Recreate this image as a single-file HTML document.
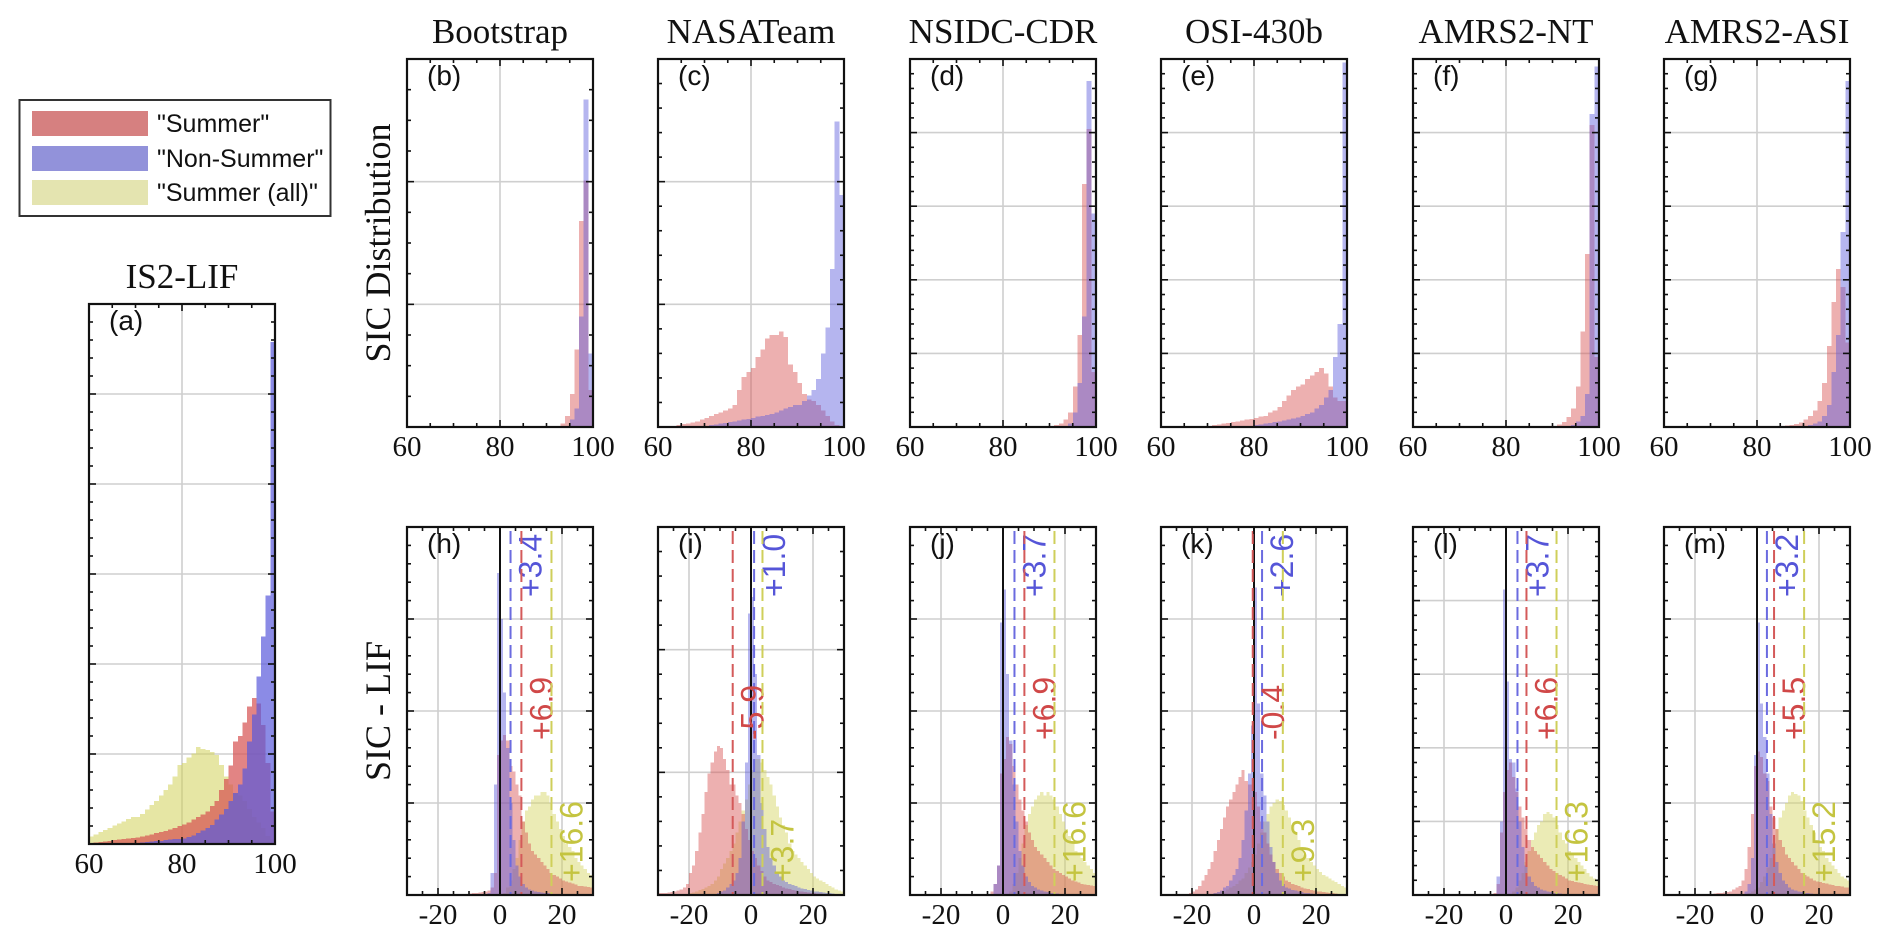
<!DOCTYPE html>
<html><head><meta charset="utf-8"><style>
html,body{margin:0;padding:0;background:#fff;}
svg{display:block;}
</style></head><body>
<svg id="fig" width="1892" height="943" viewBox="0 0 1892 943" xmlns="http://www.w3.org/2000/svg">
<g id="legend">
  <rect x="19.5" y="100" width="311" height="116" fill="#fff" stroke="#333" stroke-width="2"/>
  <rect x="32" y="111" width="116" height="25" fill="#d68080"/>
  <text x="157" y="132" font-family="Liberation Sans, sans-serif" font-size="25" fill="#111">"Summer"</text>
  <rect x="32" y="146" width="116" height="25" fill="#9292da"/>
  <text x="157" y="167" font-family="Liberation Sans, sans-serif" font-size="25" fill="#111">"Non-Summer"</text>
  <rect x="32" y="180" width="116" height="25" fill="#e4e4b0"/>
  <text x="157" y="201" font-family="Liberation Sans, sans-serif" font-size="25" fill="#111">"Summer (all)"</text>
</g>
</svg>
<script>
// ---------- data ----------
const topTitles = ['Bootstrap','NASATeam','NSIDC-CDR','OSI-430b','AMRS2-NT','AMRS2-ASI'];
const topLetters = ['(b)','(c)','(d)','(e)','(f)','(g)'];
const botLetters = ['(h)','(i)','(j)','(k)','(l)','(m)'];
const topXTicks = [60,80,100];
const botXTicks = [-20,0,20];
// SIC bins 60..99 (width 1), heights as fraction of axis height
const bRed  = [0,0,0,0,0,0,0,0,0,0, 0,0,0,0,0,0,0,0,0,0, 0,0,0,0,0,0,0,0,0,0, 0,0,0,0.01,0.03,0.09,0.21,0.56,0.67,0.1];
const bBlue = [0,0,0,0,0,0,0,0,0,0, 0,0,0,0,0,0,0,0,0,0, 0,0,0,0,0,0,0,0,0,0, 0,0,0,0,0,0.02,0.05,0.3,0.89,0.2];
const cRed  = [0,0,0,0.003,0.005,0.008,0.01,0.012,0.015,0.02, 0.025,0.03,0.035,0.04,0.045,0.05,0.06,0.1,0.136,0.15, 0.16,0.19,0.21,0.24,0.25,0.25,0.26,0.245,0.17,0.15, 0.12,0.09,0.075,0.07,0.06,0.045,0.03,0.015,0.005,0];
const cBlue = [0,0,0,0,0,0,0,0,0,0, 0.003,0.005,0.007,0.009,0.011,0.013,0.015,0.018,0.02,0.022, 0.025,0.028,0.03,0.033,0.036,0.04,0.045,0.05,0.055,0.06, 0.06,0.07,0.085,0.1,0.13,0.2,0.27,0.43,0.83,0.63];
const dRed  = [0,0,0,0,0,0,0,0,0,0, 0,0,0,0,0,0,0,0,0,0, 0,0,0,0,0,0,0,0,0,0, 0,0.005,0.01,0.02,0.04,0.11,0.25,0.66,0.81,0.15];
const dBlue = [0,0,0,0,0,0,0,0,0,0, 0,0,0,0,0,0,0,0,0,0, 0,0,0,0,0,0,0,0,0,0, 0,0,0,0,0.01,0.04,0.12,0.3,0.94,0.58];
const eRed  = [0,0,0,0,0,0,0,0,0,0, 0.003,0.005,0.007,0.009,0.011,0.013,0.015,0.018,0.02,0.022, 0.025,0.028,0.03,0.04,0.045,0.055,0.07,0.085,0.1,0.11, 0.115,0.13,0.14,0.15,0.16,0.145,0.11,0.08,0.07,0.07];
const eBlue = [0,0,0,0,0,0,0,0,0,0, 0,0,0,0,0,0,0,0,0,0, 0.005,0.007,0.009,0.011,0.013,0.015,0.018,0.02,0.023,0.026, 0.03,0.035,0.04,0.05,0.06,0.08,0.1,0.19,0.28,0.99];
const fRed  = [0,0,0,0,0,0,0,0,0,0, 0,0,0,0,0,0,0,0,0,0, 0,0,0,0,0,0,0,0,0,0, 0.003,0.007,0.014,0.027,0.05,0.11,0.26,0.47,0.82,0.19];
const fBlue = [0,0,0,0,0,0,0,0,0,0, 0,0,0,0,0,0,0,0,0,0, 0,0,0,0,0,0,0,0,0,0, 0,0,0,0,0.005,0.015,0.03,0.09,0.85,0.98];
const gRed  = [0,0,0,0,0,0,0,0,0,0, 0,0,0,0,0,0,0,0,0,0, 0,0,0,0,0,0.003,0.004,0.005,0.008,0.012, 0.02,0.03,0.045,0.07,0.12,0.22,0.34,0.43,0.38,0.23];
const gBlue = [0,0,0,0,0,0,0,0,0,0, 0,0,0,0,0,0,0,0,0,0, 0,0,0,0,0,0,0,0,0,0, 0.003,0.005,0.01,0.015,0.03,0.06,0.15,0.25,0.53,0.94];
// IS2-LIF panel (a), bins 60..99
const aYellow = [0.014,0.018,0.022,0.026,0.03,0.034,0.038,0.042,0.046,0.05, 0.05,0.056,0.064,0.072,0.08,0.09,0.1,0.11,0.125,0.146, 0.15,0.16,0.168,0.18,0.176,0.174,0.17,0.165,0.146,0.125, 0.11,0.094,0.09,0.08,0.065,0.05,0.04,0.03,0.015,0.008];
const aRed    = [0.002,0.003,0.004,0.005,0.006,0.007,0.008,0.009,0.01,0.011, 0.012,0.014,0.016,0.018,0.02,0.022,0.024,0.027,0.03,0.033, 0.036,0.04,0.045,0.05,0.055,0.06,0.07,0.08,0.1,0.12, 0.145,0.19,0.2,0.225,0.255,0.27,0.26,0.22,0.15,0.06];
const aBlue   = [0,0,0,0,0,0,0,0,0,0, 0.002,0.003,0.004,0.005,0.006,0.006,0.007,0.008,0.009,0.009, 0.01,0.013,0.016,0.02,0.025,0.03,0.035,0.045,0.055,0.065, 0.08,0.094,0.11,0.14,0.19,0.24,0.31,0.384,0.46,0.93];
// SIC - LIF bins -30..29 (width 1)
const hRed = [0,0,0,0,0,0,0,0,0,0, 0,0,0,0,0,0,0,0,0.002,0.003, 0.004,0.005,0.006,0.007,0.008,0.01,0.012,0.02,0.06,0.38, 0.42,0.435,0.42,0.35,0.335,0.3,0.27,0.2,0.17,0.14, 0.12,0.11,0.1,0.09,0.08,0.07,0.06,0.055,0.05,0.045, 0.04,0.037,0.034,0.031,0.028,0.025,0.024,0.023,0.022,0.02];
const hBlue = [0,0,0,0,0,0,0,0,0,0, 0,0,0,0,0,0,0,0,0,0, 0,0,0,0,0,0.003,0.006,0.06,0.3,0.875, 0.75,0.55,0.4,0.25,0.15,0.08,0.05,0.03,0.02,0.015, 0.012,0.01,0.008,0.007,0.006,0.005,0.004,0.003,0.003,0.002, 0.002,0.002,0.001,0,0,0,0,0,0,0];
const hYellow = [0,0,0,0,0,0,0,0,0,0, 0,0,0,0,0,0,0,0,0,0, 0,0,0,0,0,0,0,0,0,0, 0,0.005,0.02,0.04,0.07,0.1,0.15,0.2,0.23,0.24, 0.26,0.27,0.27,0.28,0.28,0.27,0.25,0.22,0.2,0.18, 0.16,0.14,0.13,0.12,0.1,0.09,0.08,0.07,0.06,0.055];
const iRed = [0.005,0.005,0.006,0.007,0.008,0.01,0.012,0.015,0.02,0.03, 0.06,0.08,0.12,0.17,0.22,0.28,0.33,0.36,0.39,0.405, 0.4,0.37,0.34,0.3,0.3,0.27,0.25,0.22,0.18,0.15, 0.12,0.1,0.08,0.065,0.05,0.04,0.035,0.03,0.027,0.024, 0.02,0.018,0.016,0.014,0.012,0.01,0.009,0.008,0.007,0.006, 0.005,0.004,0.004,0.003,0.003,0.002,0.002,0.002,0.001,0.001];
const iBlue = [0,0,0,0,0,0,0,0,0,0, 0,0,0,0,0,0,0,0,0,0.005, 0.01,0.012,0.02,0.03,0.04,0.06,0.1,0.2,0.36,0.765, 0.81,0.6,0.38,0.25,0.18,0.13,0.1,0.08,0.06,0.05, 0.04,0.035,0.03,0.027,0.024,0.02,0.018,0.016,0.014,0.012, 0.01,0.009,0.008,0.007,0.006,0.005,0.004,0.003,0.002,0.002];
const iYellow = [0,0,0,0,0,0,0,0,0,0.003, 0.005,0.007,0.01,0.013,0.016,0.02,0.025,0.03,0.04,0.05, 0.07,0.085,0.1,0.12,0.14,0.17,0.2,0.23,0.26,0.3, 0.34,0.37,0.37,0.36,0.34,0.32,0.3,0.27,0.24,0.21, 0.19,0.17,0.14,0.12,0.11,0.1,0.09,0.08,0.07,0.06, 0.05,0.045,0.04,0.035,0.03,0.025,0.02,0.015,0.012,0.01];
const jRed = [0,0,0,0,0,0,0,0,0,0, 0,0,0,0,0,0,0,0,0,0, 0,0,0,0,0,0.003,0.01,0.03,0.08,0.33, 0.37,0.43,0.41,0.35,0.3,0.26,0.23,0.2,0.17,0.15, 0.13,0.12,0.11,0.1,0.09,0.08,0.07,0.065,0.06,0.055, 0.05,0.045,0.04,0.037,0.034,0.03,0.028,0.027,0.026,0.025];
const jBlue = [0,0,0,0,0,0,0,0,0,0, 0,0,0,0,0,0,0,0,0,0, 0,0,0,0,0,0,0,0.03,0.08,0.74, 0.83,0.6,0.42,0.3,0.2,0.12,0.08,0.05,0.035,0.025, 0.02,0.015,0.012,0.01,0.008,0.006,0.005,0.004,0.003,0.002, 0,0,0,0,0,0,0,0,0,0];
const jYellow = [0,0,0,0,0,0,0,0,0,0, 0,0,0,0,0,0,0,0,0,0, 0,0,0,0,0,0,0,0,0,0, 0,0,0.01,0.03,0.06,0.1,0.14,0.19,0.22,0.24, 0.26,0.27,0.28,0.27,0.28,0.27,0.26,0.24,0.22,0.2, 0.18,0.16,0.14,0.12,0.11,0.1,0.09,0.08,0.07,0.06];
const kRed = [0,0,0,0,0,0,0,0,0,0.005, 0.01,0.015,0.025,0.04,0.055,0.07,0.09,0.12,0.15,0.18, 0.21,0.24,0.26,0.28,0.3,0.32,0.34,0.31,0.3,0.3, 0.28,0.24,0.2,0.17,0.14,0.11,0.09,0.07,0.06,0.05, 0.04,0.035,0.03,0.027,0.024,0.02,0.018,0.016,0.014,0.012, 0.01,0.009,0.008,0.007,0.006,0.005,0.004,0.003,0.002,0.002];
const kBlue = [0,0,0,0,0,0,0,0,0,0, 0,0,0,0,0,0,0.003,0.005,0.008,0.012, 0.02,0.025,0.04,0.055,0.07,0.1,0.15,0.23,0.33,0.46, 0.835,0.52,0.33,0.27,0.2,0.13,0.09,0.06,0.04,0.03, 0.02,0.017,0.014,0.012,0.01,0.008,0.006,0.005,0.004,0.003, 0.002,0,0,0,0,0,0,0,0,0];
const kYellow = [0,0,0,0,0,0,0,0,0,0, 0,0,0,0,0,0,0.003,0.005,0.007,0.009, 0.01,0.015,0.02,0.025,0.03,0.04,0.045,0.06,0.075,0.09, 0.11,0.14,0.17,0.2,0.22,0.24,0.25,0.26,0.255,0.245, 0.23,0.21,0.19,0.17,0.15,0.13,0.11,0.1,0.09,0.08, 0.07,0.062,0.055,0.05,0.045,0.04,0.035,0.03,0.025,0.02];
const lRed = [0,0,0,0,0,0,0,0,0,0, 0,0,0,0,0,0,0,0,0,0, 0,0,0,0,0,0,0.005,0.03,0.17,0.28, 0.34,0.36,0.32,0.28,0.24,0.21,0.18,0.15,0.13,0.12, 0.11,0.1,0.09,0.08,0.07,0.065,0.06,0.055,0.05,0.045, 0.04,0.038,0.036,0.034,0.032,0.03,0.028,0.027,0.026,0.025];
const lBlue = [0,0,0,0,0,0,0,0,0,0, 0,0,0,0,0,0,0,0,0,0, 0,0,0,0,0,0,0,0.05,0.2,0.83, 0.58,0.37,0.36,0.29,0.2,0.13,0.08,0.05,0.035,0.025, 0.02,0.015,0.012,0.01,0.008,0.006,0.005,0.004,0.003,0.002, 0,0,0,0,0,0,0,0,0,0];
const lYellow = [0,0,0,0,0,0,0,0,0,0, 0,0,0,0,0,0,0,0,0,0, 0,0,0,0,0,0,0,0,0,0, 0,0,0.01,0.02,0.04,0.06,0.09,0.12,0.15,0.17, 0.19,0.2,0.22,0.225,0.22,0.21,0.19,0.17,0.15,0.14, 0.12,0.11,0.1,0.09,0.08,0.07,0.06,0.05,0.045,0.04];
const mRed = [0,0,0,0,0,0,0,0,0,0, 0,0,0,0,0,0.003,0.004,0.005,0.006,0.007, 0.008,0.01,0.015,0.02,0.025,0.04,0.07,0.13,0.22,0.35, 0.39,0.375,0.33,0.31,0.24,0.21,0.18,0.15,0.13,0.11, 0.1,0.09,0.08,0.07,0.06,0.055,0.05,0.045,0.04,0.037, 0.035,0.033,0.031,0.029,0.027,0.025,0.024,0.023,0.021,0.02];
const mBlue = [0,0,0,0,0,0,0,0,0,0, 0,0,0,0,0,0,0,0,0,0, 0,0,0,0,0,0,0.01,0.03,0.1,0.38, 0.74,0.52,0.43,0.33,0.22,0.14,0.09,0.06,0.04,0.03, 0.02,0.015,0.012,0.01,0.008,0.006,0.005,0.004,0.003,0.002, 0,0,0,0,0,0,0,0,0,0];
const mYellow = [0,0,0,0,0,0,0,0,0,0, 0,0,0,0,0,0,0,0,0,0, 0,0,0,0,0,0,0,0.005,0.01,0.015, 0.02,0.035,0.05,0.075,0.1,0.14,0.18,0.21,0.23,0.25, 0.27,0.28,0.275,0.27,0.255,0.23,0.21,0.19,0.17,0.15, 0.13,0.12,0.1,0.09,0.08,0.07,0.06,0.05,0.045,0.04];
// mean differences (blue, red, yellow)
const meanBlue   = [3.4, 1.0, 3.7, 2.6, 3.7, 3.2];
const meanRed    = [6.9, -5.9, 6.9, -0.4, 6.6, 5.5];
const meanYellow = [16.6, 3.7, 16.6, 9.3, 16.3, 15.2];
const topRed = [bRed,cRed,dRed,eRed,fRed,gRed];
const topBlue = [bBlue,cBlue,dBlue,eBlue,fBlue,gBlue];
const botRed = [hRed,iRed,jRed,kRed,lRed,mRed];
const botBlue = [hBlue,iBlue,jBlue,kBlue,lBlue,mBlue];
const botYellow = [hYellow,iYellow,jYellow,kYellow,lYellow,mYellow];
const topDivs = [3,3,5,5,5,5];
const botDivs = [4,3,4,4,5,4];

// ---------- drawing ----------
const NS = 'http://www.w3.org/2000/svg';
const svg = document.getElementById('fig');
function mk(tag, attrs, parent){ const e=document.createElementNS(NS,tag); for(const k in attrs) e.setAttribute(k,attrs[k]); (parent||svg).appendChild(e); return e; }
const COL = {red:'rgb(214,80,80)', blue:'rgb(90,90,220)', yellow:'rgb(210,210,90)'};
const LINECOL = {red:'#d45a5a', blue:'#6b6be0', yellow:'#cfcf5a'};
const TXTCOL = {red:'#d04848', blue:'#5555d8', yellow:'#c4c440'};
const SERIF = 'Liberation Serif, serif';
const SANS = 'Liberation Sans, sans-serif';

function drawPanel(p){
  const g = mk('g',{});
  
  
  const xs = v => p.x + (v - p.xmin)/(p.xmax - p.xmin)*p.w;
  const ys = f => p.y + p.h - f*p.h;
  for(let k=1;k<p.nDiv;k++){
    const yy = p.y + p.h*k/p.nDiv;
    const l = mk('line',{x1:p.x,x2:p.x+p.w,y1:yy,y2:yy,stroke:'#cfcfcf','stroke-width':1.6},g);
    
    
  }
  p.xGrid.forEach(v=>{
    const l = mk('line',{x1:xs(v),x2:xs(v),y1:p.y,y2:p.y+p.h,stroke:'#cfcfcf','stroke-width':1.6},g);
    
    
  });
  p.series.forEach(s=>{
    const sg = mk('g',{fill:COL[s.color],'fill-opacity':s.op,'shape-rendering':'crispEdges'},g);
    
    
    s.vals.forEach((v,i)=>{
      if(v<=0) return;
      const x0 = xs(p.xmin+i*p.bin), x1 = xs(p.xmin+(i+1)*p.bin);
      const r = mk('rect',{x:x0,y:ys(v),width:x1-x0,height:ys(0)-ys(v)},sg);
      
      
    });
  });
  if(p.zeroLine){
    const z = mk('line',{x1:xs(0),x2:xs(0),y1:p.y,y2:p.y+p.h,stroke:'#111','stroke-width':2},g);
    
    
  }
  (p.means||[]).forEach(m=>{
    const lx = xs(m.v);
    const l = mk('line',{x1:lx,x2:lx,y1:p.y+4,y2:p.y+p.h,stroke:LINECOL[m.color],'stroke-width':2,'stroke-dasharray':'13,6'},g);
    
    
    const tx = lx+31, ty = p.y + m.dy;
    const t = mk('text',{x:tx,y:ty,transform:`rotate(-90 ${tx} ${ty})`,'font-family':SANS,'font-size':32,fill:TXTCOL[m.color]},g);
    t.textContent = (m.v>=0?'+':'') + m.v.toFixed(1);
    
    
  });
  const tk = mk('g',{stroke:'#111','stroke-width':1.6},g);
  
  
  const nY = p.nDiv*p.nMinor;
  for(let k=1;k<nY;k++){
    const yy = p.y + p.h*k/nY; const L = (k%p.nMinor===0)?7:4;
    mk('line',{x1:p.x,x2:p.x+L,y1:yy,y2:yy},tk);
    mk('line',{x1:p.x+p.w,x2:p.x+p.w-L,y1:yy,y2:yy},tk);
  }
  for(let v=p.xmin+p.xMinor; v<p.xmax-0.001; v+=p.xMinor){
    const xx = xs(v); const L = (p.xGrid.indexOf(v)>=0)?7:4;
    mk('line',{x1:xx,x2:xx,y1:p.y+p.h,y2:p.y+p.h-L},tk);
    mk('line',{x1:xx,x2:xx,y1:p.y,y2:p.y+L},tk);
  }
  const fr = mk('rect',{x:p.x,y:p.y,width:p.w,height:p.h,fill:'none',stroke:'#111','stroke-width':2.2},g);
  
  
  p.xTicks.forEach(v=>{
    const t = mk('text',{x:xs(v),y:p.y+p.h+29,'text-anchor':'middle','font-family':SERIF,'font-size':29,fill:'#111'},g);
    t.textContent = String(v);
    
    
  });
  const lt = mk('text',{x:p.x+20,y:p.y+26,'font-family':SANS,'font-size':28,fill:'#111'},g);
  lt.textContent = p.letter;
  
  
  if(p.title){
    const tt = mk('text',{x:p.x+p.w/2,y:p.y-16,'text-anchor':'middle','font-family':SERIF,'font-size':35,fill:'#111'},g);
    tt.textContent = p.title;
    
    
  }
}

const colX = [407, 658, 910, 1161, 1413, 1664];
const PW = 186, PH = 368, TOPY = 59, BOTY = 527;

drawPanel({name:'panel-a-is2-lif', x:89, y:304, w:186, h:540, xmin:60, xmax:100, bin:1, nDiv:6, nMinor:5,
  xGrid:[80], xMinor:5, xTicks:topXTicks, letter:'(a)', title:'IS2-LIF',
  series:[{vals:aYellow,color:'yellow',op:0.55},{vals:aRed,color:'red',op:0.7},{vals:aBlue,color:'blue',op:0.7}]});

for(let c=0;c<6;c++){
  drawPanel({name:'panel-top-'+topTitles[c].toLowerCase(), x:colX[c], y:TOPY, w:PW, h:PH, xmin:60, xmax:100, bin:1,
    nDiv:topDivs[c], nMinor:(c===0?4:5), xGrid:[80], xMinor:5, xTicks:topXTicks, letter:topLetters[c], title:topTitles[c],
    series:[{vals:topRed[c],color:'red',op:0.45},{vals:topBlue[c],color:'blue',op:0.45}]});
  drawPanel({name:'panel-bottom-'+topTitles[c].toLowerCase(), x:colX[c], y:BOTY, w:PW, h:PH, xmin:-30, xmax:30, bin:1,
    nDiv:botDivs[c], nMinor:5, xGrid:[-20,0,20], xMinor:5, xTicks:botXTicks, letter:botLetters[c], zeroLine:true,
    series:[{vals:botYellow[c],color:'yellow',op:0.45},{vals:botRed[c],color:'red',op:0.45},{vals:botBlue[c],color:'blue',op:0.45}],
    means:[{v:meanBlue[c],color:'blue',dy:70},{v:meanRed[c],color:'red',dy:213},{v:meanYellow[c],color:'yellow',dy:355}]});
}

const yl1 = mk('text',{x:390,y:243,transform:'rotate(-90 390 243)','text-anchor':'middle','font-family':SERIF,'font-size':36,fill:'#111'});
yl1.textContent = 'SIC Distribution';


const yl2 = mk('text',{x:390,y:711,transform:'rotate(-90 390 711)','text-anchor':'middle','font-family':SERIF,'font-size':36,fill:'#111'});
yl2.textContent = 'SIC - LIF';


</script>
</body></html>
